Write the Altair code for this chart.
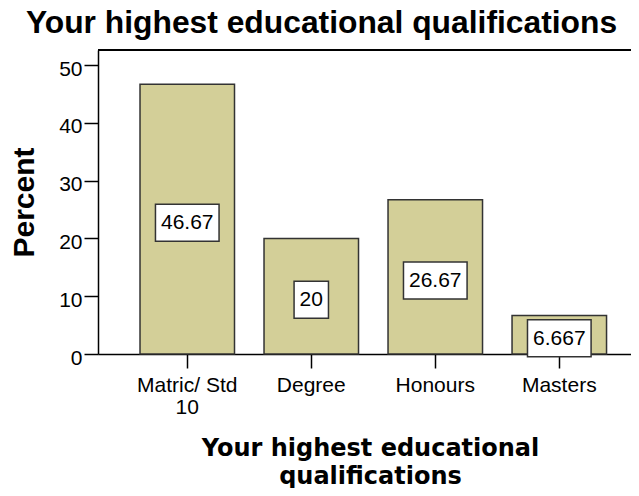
import altair as alt
import pandas as pd

categories = ["Matric/ Std\n10", "Degree", "Honours", "Masters"]
percents = [46.67, 20.0, 26.67, 6.667]
y_ticks = [0, 10, 20, 30, 40, 50]
title_text = "Your highest educational qualifications"
x_title = ["Your highest educational", "qualifications"]

df = pd.DataFrame({"cat": categories, "pct": percents})

W, H = 533, 304
FONT = "Liberation Sans"

x_enc = alt.X(
    "cat:N",
    sort=categories,
    scale=alt.Scale(paddingInner=0.238, paddingOuter=0.268, align=0.632),
    axis=alt.Axis(
        title=x_title,
        titleFont="DejaVu Sans",
        titleFontWeight="bold",
        titleFontSize=24,
        titleColor="#000000",
        titleAlign="center",
        titleBaseline="alphabetic",
        titleLineHeight=28,
        titleX=272,
        titleY=101,
        labelExpr="split(datum.label, '\\n')",
        labelFont=FONT,
        labelFontSize=21,
        labelColor="#000000",
        labelAngle=0,
        labelBaseline="alphabetic",
        labelLineHeight=22,
        labelPadding=23,
        tickSize=14,
        tickColor="#000000",
        tickWidth=1.5,
        domainColor="#000000",
        domainWidth=1.5,
    ),
)

y_scale = alt.Scale(domain=[0, 52.6], nice=False, zero=True)

bars = alt.Chart(df).mark_bar(
    fill="#d3cf98", stroke="#333333", strokeWidth=1.5
).encode(
    x=x_enc,
    y=alt.Y(
        "pct:Q",
        scale=y_scale,
        axis=alt.Axis(
            values=y_ticks,
            title="Percent",
            titleFont=FONT,
            titleFontWeight="bold",
            titleFontSize=30,
            titleColor="#000000",
            titleAngle=270,
            titleAlign="center",
            titleBaseline="alphabetic",
            titleX=-65,
            titleY=152,
            labelFont=FONT,
            labelFontSize=21,
            labelColor="#000000",
            labelBaseline="middle",
            labelOffset=4,
            labelPadding=2,
            tickSize=14,
            tickColor="#000000",
            tickWidth=1.5,
            domainColor="#000000",
            domainWidth=1.5,
            grid=False,
        ),
    ),
)

label_base = alt.Chart(df).transform_calculate(
    mid="datum.pct / 2",
    txt="format(datum.pct, '.4~g')",
).transform_calculate(
    boxw="11 + 11.7 * length(datum.txt) - (indexof(datum.txt, '.') >= 0 ? 5.9 : 0)"
)

boxes = label_base.mark_bar(
    fill="white", stroke="#333333", strokeWidth=1.5, yOffset=-15, y2Offset=22
).encode(
    x=alt.X("cat:N", sort=categories),
    y=alt.Y("mid:Q", scale=y_scale),
    y2="mid:Q",
    size=alt.Size("boxw:Q", scale=None, legend=None),
)

texts = label_base.mark_text(
    font=FONT, fontSize=21, color="#000000", baseline="middle", dy=4
).encode(
    x=alt.X("cat:N", sort=categories),
    y=alt.Y("mid:Q", scale=y_scale),
    text="txt:N",
)

top_border = alt.Chart(df).mark_rule(color="#000000", strokeWidth=1.5).encode(
    x=alt.value(0), x2=alt.value(W), y=alt.value(0)
)

chart = alt.layer(bars, boxes, texts, top_border).properties(
    width=W,
    height=H,
    title=alt.TitleParams(
        text=title_text,
        font=FONT,
        fontSize=31.8,
        fontWeight="bold",
        color="#000000",
        anchor="middle",
        baseline="alphabetic",
        dx=-43,
        dy=33,
        offset=17,
    ),
    autosize=alt.AutoSizeParams(type="none"),
    padding={"left": 90, "top": 42, "right": 0, "bottom": 134},
).configure_view(
    fill="#f0f0f0", stroke=None
).configure(background="white")

chart.save("out.html", embed_options={"renderer": "svg", "actions": False})
